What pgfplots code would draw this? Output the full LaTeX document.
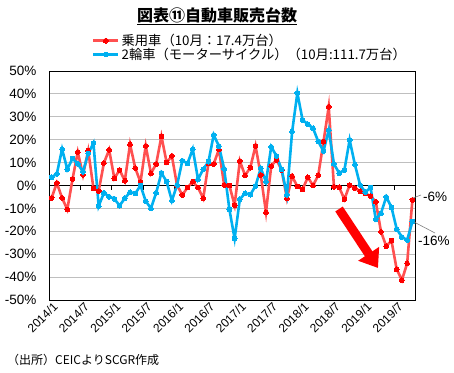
\documentclass[border=0pt]{standalone}
\usepackage{fontspec}
\setmainfont{Liberation Sans}
\newfontfamily\jp{Noto Sans CJK JP}
\usepackage{pgfplots}
\usepackage{pgfplotstable}
\pgfplotsset{compat=1.18}
\usetikzlibrary{arrows.meta}
\definecolor{redline}{RGB}{255,80,80}
\definecolor{redmark}{RGB}{255,0,0}
\definecolor{blueline}{RGB}{0,176,240}
\definecolor{gridgray}{RGB}{191,191,191}

\pgfplotstableread{
i car moto
0 -5.4 3.6
1 1.1 5.1
2 -5.4 15.9
3 -10.5 7.1
4 2.8 11.8
5 14.6 9.5
6 4.6 6.0
7 15.2 14.0
8 -1.2 18.5
9 -2.4 -9.0
10 9.8 -3.2
11 15.6 -4.9
12 3.1 -5.8
13 6.8 -8.8
14 2.1 -5.6
15 18.0 -2.9
16 7.6 -3.5
17 1.5 0.0
18 17.3 -6.8
19 5.3 -10.0
20 9.4 -3.2
21 21.5 5.5
22 10.0 1.7
23 12.9 -6.6
24 0.0 0.2
25 -4.1 10.8
26 -0.9 9.7
27 1.7 15.9
28 -0.9 2.7
29 -5.6 7.1
30 9.7 10.4
31 9.4 22.1
32 15.8 17.2
33 0.2 7.3
34 0.0 -10.4
35 -8.6 -23.2
36 10.7 -6.0
37 4.4 -3.4
38 7.8 -4.0
39 17.3 -0.2
40 4.6 7.5
41 -11.7 1.7
42 8.5 16.9
43 11.2 12.9
44 6.8 7.0
45 -5.6 -4.1
46 4.0 23.5
47 -0.4 40.4
48 -1.7 28.6
49 3.6 26.8
50 0.0 25.0
51 4.5 19.2
52 19.1 15.0
53 34.4 24.2
54 -0.6 9.4
55 -0.8 5.4
56 -6.0 6.8
57 0.2 19.9
58 -1.1 9.2
59 -2.5 0.2
60 -3.5 -2.9
61 -4.6 -0.9
62 -7.1 -14.8
63 -20.2 -12.1
64 -26.5 -5.0
65 -24.1 -9.5
66 -36.6 -19.0
67 -41.3 -22.5
68 -34.0 -23.8
69 -6.3 -15.8
}\data

\begin{document}
\begin{tikzpicture}
\path[use as bounding box] (0,0) rectangle (454pt,372pt);
\begin{axis}[
  at={(49pt,72pt)}, anchor=south west, scale only axis,
  width=366pt, height=229pt,
  xmin=-0.5, xmax=69.5, ymin=-50, ymax=50,
  ytick={-50,-40,...,50},
  xtick={0,6,...,66},
  xticklabels={2014/1,2014/7,2015/1,2015/7,2016/1,2016/7,2017/1,2017/7,2018/1,2018/7,2019/1,2019/7},
  major tick length=0pt,
  ymajorgrids, grid style={gridgray, line width=0.9pt},
  extra y ticks={0}, extra y tick labels={},
  extra y tick style={grid style={black, line width=1pt}},
  axis line style={black, line width=0.9pt},
  clip=false,
  /pgf/number format/assume math mode=true,
  yticklabel={\pgfmathprintnumber{\tick}\%},
  yticklabel style={font=\fontsize{13.5}{14}\selectfont, xshift=-9pt},
  xticklabel style={font=\fontsize{12}{13}\selectfont, rotate=45, anchor=east, yshift=-6pt, xshift=3pt},
  legend style={at={(0.117,1.17)}, anchor=north west, draw=none, fill=none,
    font=\jp\fontsize{13.3}{15}\selectfont, row sep=-3pt, inner sep=0pt},
  legend cell align=left,
  legend image code/.code={\draw[mark repeat=2,mark phase=2] plot coordinates {(0pt,0pt)(12.5pt,0pt)(25pt,0pt)};},
]
\draw[black, line width=0.8pt]
  (axis cs:5.5,0) -- (axis cs:5.5,-1.8)
  (axis cs:11.5,0) -- (axis cs:11.5,-1.8)
  (axis cs:17.5,0) -- (axis cs:17.5,-1.8)
  (axis cs:23.5,0) -- (axis cs:23.5,-1.8)
  (axis cs:29.5,0) -- (axis cs:29.5,-1.8)
  (axis cs:35.5,0) -- (axis cs:35.5,-1.8)
  (axis cs:41.5,0) -- (axis cs:41.5,-1.8)
  (axis cs:47.5,0) -- (axis cs:47.5,-1.8)
  (axis cs:53.5,0) -- (axis cs:53.5,-1.8)
  (axis cs:59.5,0) -- (axis cs:59.5,-1.8)
  (axis cs:65.5,0) -- (axis cs:65.5,-1.8);
\addplot[redline, line width=2.6pt, mark=*, mark size=2.4pt, mark options={redmark, fill=redmark, draw=redmark, line width=0pt}] table[x=i, y=car] {\data};
\addlegendentry{乗用車（10月：17.4万台）}
\addplot[blueline, line width=2.6pt, mark=*, mark size=2.4pt, mark options={blueline, fill=blueline, line width=0pt}] table[x=i, y=moto] {\data};
\addlegendentry{2輪車（モーターサイクル）（10月:111.7万台）}
\end{axis}
\node[font=\jp\bfseries\fontsize{16}{18}\selectfont] at (217pt,356pt) {\underline{図表⑪自動車販売台数}};
\node[anchor=west, font=\jp\fontsize{12}{14}\selectfont, inner sep=0pt] at (7pt,12pt) {（出所）CEICよりSCGR作成};
\draw[gray, line width=0.6pt] (413pt,174pt) -- (421pt,177pt);
\draw[gray, line width=0.6pt] (414pt,150pt) -- (435pt,139pt);
\node[anchor=west, font=\fontsize{13.5}{14}\selectfont, inner sep=0pt] at (423pt,175pt) {-6\%};
\node[anchor=west, font=\fontsize{13.5}{14}\selectfont, inner sep=0pt] at (418pt,131pt) {-16\%};
\draw[redmark, line width=9pt, -{Triangle[length=17pt, width=24pt]}] (339pt,163pt) -- (378pt,104pt);
\end{tikzpicture}
\end{document}
